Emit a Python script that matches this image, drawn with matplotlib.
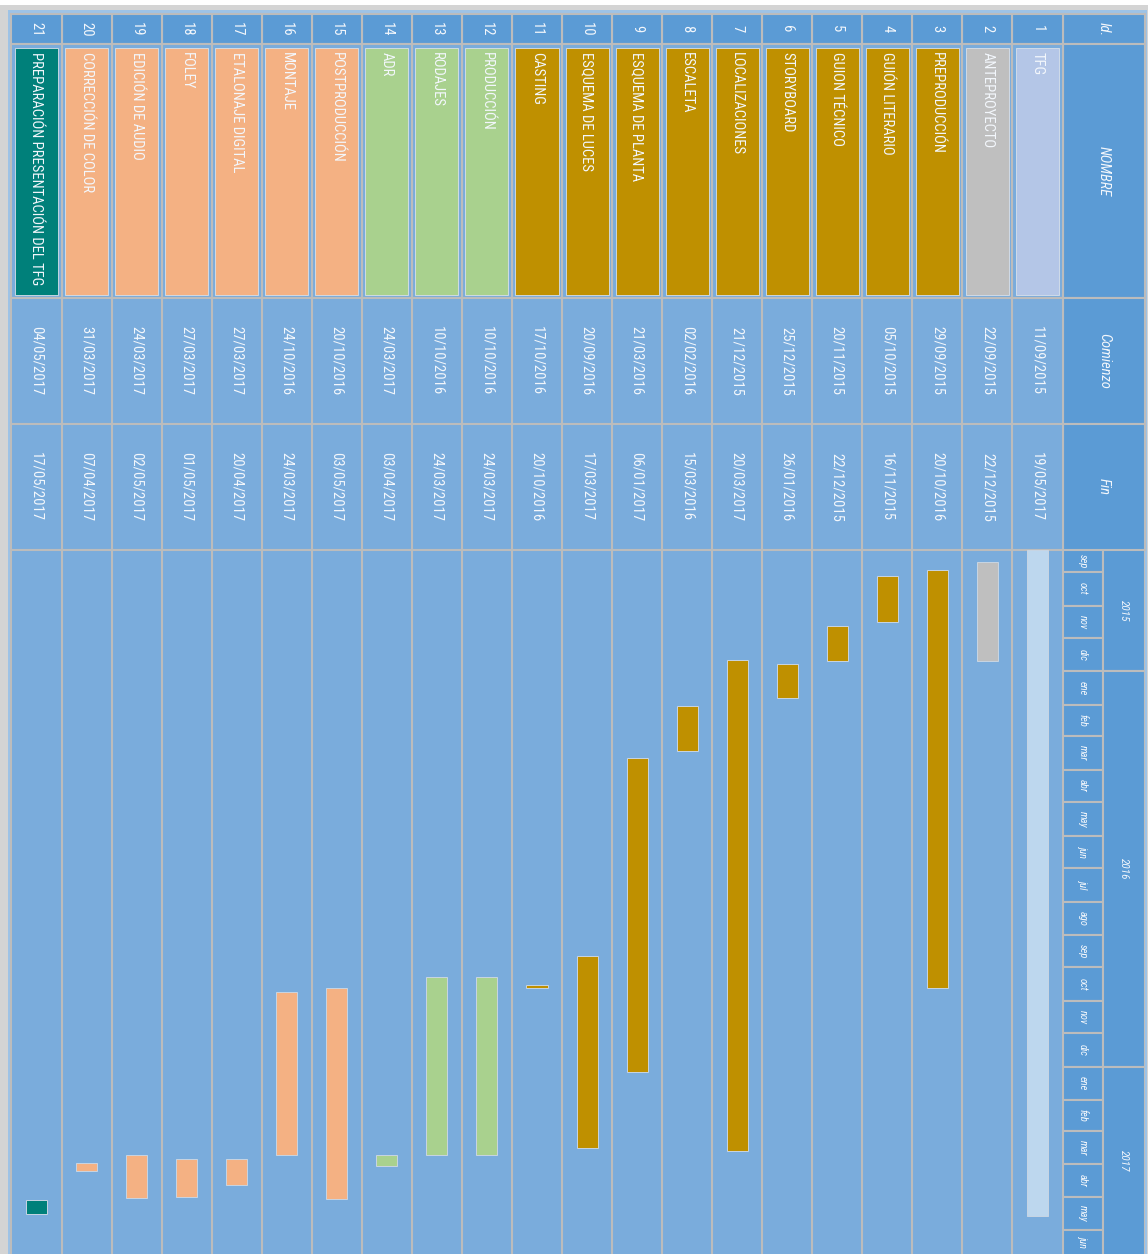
import matplotlib
matplotlib.use("Agg")
import matplotlib.pyplot as plt
import matplotlib.dates as mdates
from matplotlib.patches import Rectangle
from datetime import datetime

# ---------------- data ----------------
ids = list(range(1, 22))
names = ["TFG", "ANTEPROYECTO", "PREPRODUCCIÓN", "GUIÓN LITERARIO", "GUION TÉCNICO",
         "STORYBOARD", "LOCALIZACIONES", "ESCALETA", "ESQUEMA DE PLANTA", "ESQUEMA DE LUCES",
         "CASTING", "PRODUCCIÓN", "RODAJES", "ADR", "POSTPRODUCCIÓN", "MONTAJE",
         "ETALONAJE DIGITAL", "FOLEY", "EDICIÓN DE AUDIO", "CORRECCIÓN DE COLOR",
         "PREPARACIÓN PRESENTACIÓN DEL TFG"]
starts = ["11/09/2015", "22/09/2015", "29/09/2015", "05/10/2015", "20/11/2015", "25/12/2015",
          "21/12/2015", "02/02/2016", "21/03/2016", "20/09/2016", "17/10/2016", "10/10/2016",
          "10/10/2016", "24/03/2017", "20/10/2016", "24/10/2016", "27/03/2017", "27/03/2017",
          "24/03/2017", "31/03/2017", "04/05/2017"]
ends = ["19/05/2017", "22/12/2015", "20/10/2016", "16/11/2015", "22/12/2015", "26/01/2016",
        "20/03/2017", "15/03/2016", "06/01/2017", "17/03/2017", "20/10/2016", "24/03/2017",
        "24/03/2017", "03/04/2017", "03/05/2017", "24/03/2017", "20/04/2017", "01/05/2017",
        "02/05/2017", "07/04/2017", "17/05/2017"]
phases = ["tfg", "ante", "pre", "pre", "pre", "pre", "pre", "pre", "pre", "pre", "pre",
          "prod", "prod", "prod", "post", "post", "post", "post", "post", "post", "final"]
month_names = ["ene", "feb", "mar", "abr", "may", "jun", "jul", "ago", "sep", "oct", "nov", "dic"]
col_headers = ["Id.", "NOMBRE", "Comienzo", "Fin"]
view_start = datetime(2015, 9, 10, 14)
view_end = datetime(2017, 6, 23, 5)

# ---------------- style ----------------
name_colors = {"tfg": "#b4c6e7", "ante": "#bfbfbf", "pre": "#bf9000", "prod": "#a9d18e",
               "post": "#f4b183", "final": "#00807a"}
bar_colors = {"tfg": "#bdd7ee", "ante": "#bfbfbf", "pre": "#bf9000", "prod": "#a9d18e",
              "post": "#f4b183", "final": "#00807a"}
HDR = "#5b9bd5"
CELL = "#7aacdc"
GRID = "#bcbcbc"
TXT = "#f3f7fc"
FONT = ["Roboto Condensed", "DejaVu Sans"]

W, H = 1148, 1254
P = 50.05
X_ROWS_R = 1062.5
X_MON_R = 1103
X_HDR_R = 1145
Y_ID = (14, 44)
Y_NAME = (44, 298)
Y_COM = (298, 424)
Y_FIN = (424, 550)
Y_TL = (550, H)

fig = plt.figure(figsize=(W / 100, H / 100), dpi=100)
fig.patch.set_facecolor("white")
base = fig.add_axes([0, 0, 1, 1])
base.set_xlim(0, W)
base.set_ylim(H, 0)
base.axis("off")


def cell(x0, y0, x1, y1, fc, ec=GRID, lw=1.5, ax=base, z=1):
    ax.add_patch(Rectangle((x0, y0), x1 - x0, y1 - y0, facecolor=fc, edgecolor=ec,
                           linewidth=lw, zorder=z))


def ctext(x, y, s, size, style="normal", ax=base):
    ax.text(x, y, s, rotation=-90, ha="center", va="center", fontsize=size,
            color=TXT, family=FONT, style=style, zorder=5)


# outer frame
cell(0, 5, W, H + 5, "#d4d4d4", ec="none", lw=0)
cell(8, 10, 1147, H + 5, "#9ec3e6", ec="none", lw=0)

# header column
for (y0, y1) in [Y_ID, Y_NAME, Y_COM, Y_FIN]:
    cell(X_ROWS_R, y0, X_HDR_R, y1, HDR)
hx_c = (X_ROWS_R + X_HDR_R) / 2
for lab, (y0, y1) in zip(col_headers, [Y_ID, Y_NAME, Y_COM, Y_FIN]):
    ctext(hx_c, (y0 + y1) / 2, lab, 10.5, style="italic")

# rows
for k, (i, nm, s, e, ph) in enumerate(zip(ids, names, starts, ends, phases)):
    x0 = X_ROWS_R - (k + 1) * P
    x1 = x0 + P
    xc = (x0 + x1) / 2
    cell(x0, Y_ID[0], x1, Y_ID[1], HDR)
    ctext(xc, sum(Y_ID) / 2, str(i), 10.5)
    cell(x0, Y_NAME[0], x1, Y_NAME[1], CELL)
    cell(x0 + 3.5, Y_NAME[0] + 4, x1 - 3.5, Y_NAME[1] - 3.5, name_colors[ph],
         ec="#d9e1ea", lw=0.6, z=2)
    base.text(xc, Y_NAME[0] + 8, nm, rotation=-90, rotation_mode="anchor", ha="left",
              va="center", fontsize=10.5, color=TXT, family=FONT, zorder=5)
    cell(x0, Y_COM[0], x1, Y_COM[1], CELL)
    ctext(xc, sum(Y_COM) / 2, s, 10.5)
    cell(x0, Y_FIN[0], x1, Y_FIN[1], CELL)
    ctext(xc, sum(Y_FIN) / 2, e, 10.5)
    cell(x0, Y_TL[0], x1, Y_TL[1] + 10, CELL)

# ---------------- gantt axes (timeline) ----------------
gx = fig.add_axes([11.5 / W, 0, (X_ROWS_R - 11.5) / W, (Y_TL[1] - Y_TL[0]) / H])
gx.patch.set_alpha(0)
gx.set_xlim(len(ids) - 0.5, -0.5)
gx.set_ylim(mdates.date2num(view_end), mdates.date2num(view_start))
for sp in gx.spines.values():
    sp.set_visible(False)
gx.set_xticks([])
gx.set_yticks([])

sd = [mdates.date2num(datetime.strptime(s, "%d/%m/%Y")) for s in starts]
ed = [mdates.date2num(datetime.strptime(e, "%d/%m/%Y")) for e in ends]
gx.bar(range(len(ids)), [b - a for a, b in zip(sd, ed)], bottom=sd, width=0.42,
       color=[bar_colors[p] for p in phases], edgecolor="#c8d5e3", linewidth=0.7, zorder=3)

# ---------------- month / year header axes ----------------
hx = fig.add_axes([X_ROWS_R / W, 0, (X_HDR_R - X_ROWS_R) / W, (Y_TL[1] - Y_TL[0]) / H])
hx.set_xlim(0, 1)
hx.set_ylim(mdates.date2num(view_end), mdates.date2num(view_start))
hx.axis("off")
mfrac = (X_MON_R - X_ROWS_R) / (X_HDR_R - X_ROWS_R)

v0 = mdates.date2num(view_start)
v1 = mdates.date2num(view_end)
y, m = 2015, 9
while True:
    ms = datetime(y, m, 1)
    ny, nm_ = (y + 1, 1) if m == 12 else (y, m + 1)
    me = datetime(ny, nm_, 1)
    a = max(mdates.date2num(ms), v0)
    b = min(mdates.date2num(me), v1 + 15)
    if a >= v1:
        break
    hx.add_patch(Rectangle((0, a), mfrac, b - a, facecolor=HDR, edgecolor=GRID,
                           linewidth=1.5, clip_on=True))
    ctext(mfrac / 2, (a + min(b, v1)) / 2, month_names[m - 1], 7.5, style="italic", ax=hx)
    y, m = ny, nm_

for yr in [2015, 2016, 2017]:
    a = max(mdates.date2num(datetime(yr, 1, 1)), v0)
    b = min(mdates.date2num(datetime(yr + 1, 1, 1)), v1 + 15)
    hx.add_patch(Rectangle((mfrac, a), 1 - mfrac, b - a, facecolor=HDR, edgecolor=GRID,
                           linewidth=1.5, clip_on=True))
    ctext((1 + mfrac) / 2, (a + min(b, v1)) / 2, str(yr), 8, style="italic", ax=hx)

fig.savefig("out.png", dpi=100, facecolor="white")
